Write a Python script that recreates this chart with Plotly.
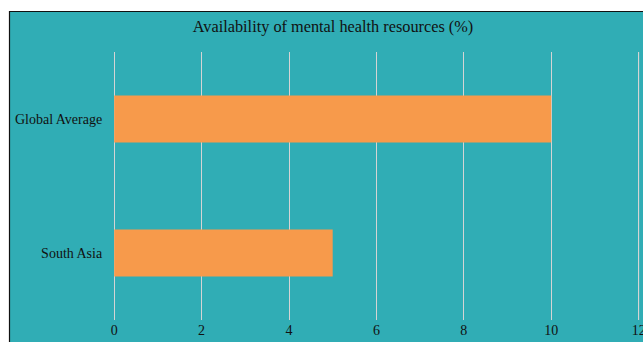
import plotly.graph_objects as go

# Data
regions = ["South Asia", "Global Average"]
availability = [5, 10]
x_ticks = [0, 2, 4, 6, 8, 10, 12]
x_range = [-0.05, 12.1]

TEAL = "#30adb5"
ORANGE = "#f79a4b"
GRID = "#d4d4d4"
FONT = "Liberation Serif, Times New Roman, serif"

W, H = 643, 342
ML, MR, MT, MB = 112, 0, 52, 22
PW, PH = W - ML - MR, H - MT - MB


def px_to_paper_x(px):
    return (px - ML) / PW


def px_to_paper_y(py):
    return 1 - (py - MT) / PH


fig = go.Figure(
    go.Bar(
        x=availability,
        y=regions,
        orientation="h",
        marker=dict(color=ORANGE, line=dict(width=0)),
        hoverinfo="x+y",
    )
)

# Teal chart panel with a dark border, offset from the page edge
fig.add_shape(
    type="rect",
    xref="paper", yref="paper",
    x0=px_to_paper_x(9.5), x1=px_to_paper_x(W + 40),
    y0=px_to_paper_y(H + 40), y1=px_to_paper_y(11.5),
    fillcolor=TEAL,
    line=dict(color="#111111", width=1.2),
    layer="below",
)

# Grid line for the outermost tick at the axis end
fig.add_shape(
    type="line",
    xref="x", yref="paper",
    x0=x_ticks[-1], x1=x_ticks[-1], y0=0, y1=1,
    line=dict(color=GRID, width=1),
    layer="above",
)

fig.update_layout(
    width=W,
    height=H,
    margin=dict(l=ML, r=MR, t=MT, b=MB, pad=0),
    paper_bgcolor="white",
    plot_bgcolor="rgba(0,0,0,0)",
    bargap=0.65,
    showlegend=False,
    font=dict(family=FONT, size=14, color="#111111"),
    title=dict(
        text="Availability of mental health resources (%)",
        x=333 / W,
        xref="container",
        xanchor="center",
        y=1 - 26 / H,
        yref="container",
        yanchor="middle",
        font=dict(family=FONT, size=16.3, color="#111111"),
    ),
    xaxis=dict(
        range=x_range,
        tickvals=x_ticks,
        showgrid=True,
        gridcolor=GRID,
        gridwidth=1,
        zeroline=False,
        showline=False,
        ticks="",
        tickfont=dict(family=FONT, size=14, color="#111111"),
        ticklabeloverflow="allow",
        automargin=False,
        fixedrange=True,
    ),
    yaxis=dict(
        showgrid=False,
        zeroline=False,
        showline=False,
        ticks="outside",
        ticklen=6,
        tickcolor="rgba(0,0,0,0)",
        tickfont=dict(family=FONT, size=14, color="#111111"),
        automargin=False,
        fixedrange=True,
    ),
)

fig.write_html("out.html", config={"displayModeBar": False})
